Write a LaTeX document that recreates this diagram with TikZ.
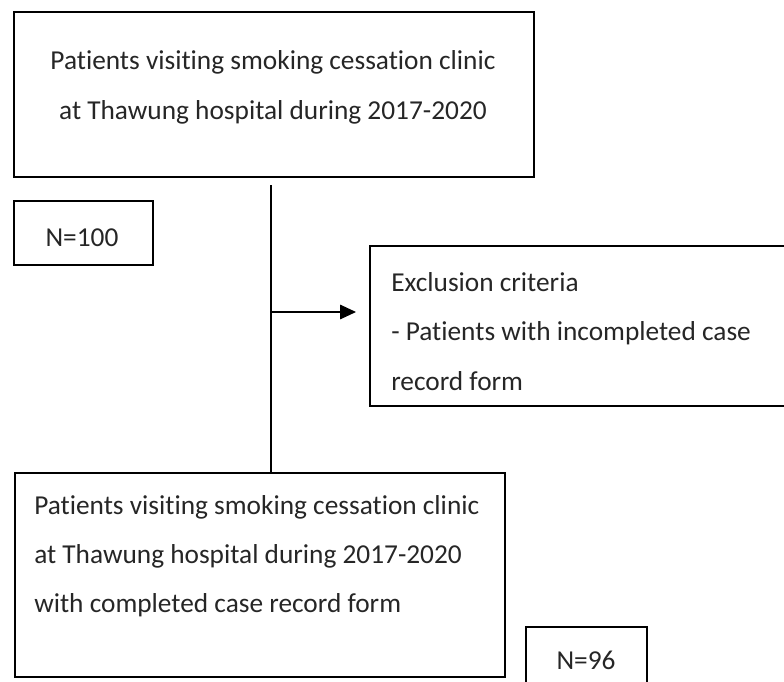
\documentclass[tikz,border=0pt]{standalone}
\usepackage{fontspec}
\setmainfont{Carlito}[Ligatures={NoCommon,NoRare}]
\usetikzlibrary{arrows.meta}
\begin{document}
\begin{tikzpicture}[x=0.75pt,y=-0.75pt,
  box/.style={draw=black, line width=1.5pt, inner sep=0pt, anchor=north west},
  txt/.style={inner sep=0pt, font=\fontsize{20.5}{37}\selectfont, text=black!85},
  conn/.style={draw=black, line width=0.8pt}]
\useasboundingbox (0,0) rectangle (784,681);
\clip (0,0) rectangle (784,681);
% boxes
\node[box, minimum width=390pt, minimum height=123.75pt] (top) at (13,11) {};
\node[box, minimum width=104.25pt, minimum height=48pt] (n100) at (13,200) {};
\node[box, minimum width=315pt, minimum height=120pt] (excl) at (369,245) {};
\node[box, minimum width=367.9pt, minimum height=153pt] (bot) at (13.5,472) {};
\node[box, minimum width=90.75pt, minimum height=60pt] (n96) at (525,626) {};
% texts
\node[txt, anchor=base] (t1a) at (273,70) {Patients visiting smoking cessation clinic};
\node[txt, anchor=base] (t1b) at (273,120) {at Thawung hospital during 2017-2020};
\node[txt, anchor=base] (tn100) at (82,246) {N=100};
\node[txt, anchor=base west] (e1) at (391,291) {Exclusion criteria};
\node[txt, anchor=base west] (e2) at (391,340) {- Patients with incompleted case};
\node[txt, anchor=base west] (e3) at (391,390) {record form};
\node[txt, anchor=base west] (b1) at (34,514) {Patients visiting smoking cessation clinic};
\node[txt, anchor=base west] (b2) at (34,563) {at Thawung hospital during 2017-2020};
\node[txt, anchor=base west] (b3) at (34,612) {with completed case record form};
\node[txt, anchor=base] (tn96) at (586,669) {N=96};
% connectors
\coordinate (vtop) at (271,185);
\coordinate (vbr) at (271,312);
\coordinate (atip) at (356,312);
\draw[conn] (vtop) -- (vtop |- bot.north);
\draw[conn, -{Triangle[length=12pt, width=11pt]}] (vbr) -- (atip);
\end{tikzpicture}
\end{document}
